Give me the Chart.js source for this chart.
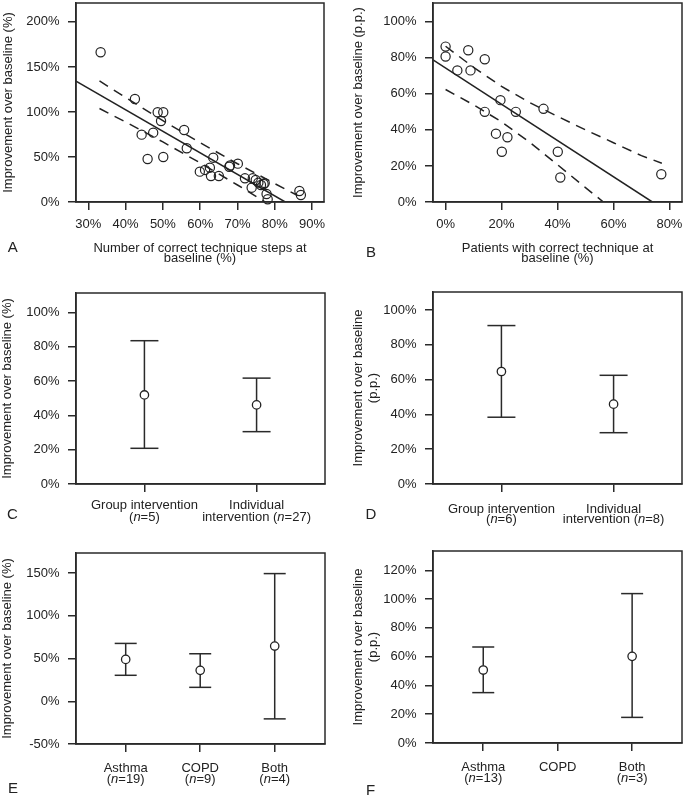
<!DOCTYPE html>
<html><head><meta charset="utf-8">
<script src="https://cdn.jsdelivr.net/npm/chart.js@4/dist/chart.umd.min.js"></script>
<style>
html,body{margin:0;padding:0;background:#fff;}
#wrap{position:relative;width:685px;height:799px;overflow:hidden;background:#fff;}
canvas{position:absolute;}
</style></head><body>
<div id="wrap">
<canvas id="cA" width="342" height="270" style="left:0;top:0"></canvas>
<canvas id="cB" width="343" height="270" style="left:342px;top:0"></canvas>
<canvas id="cC" width="342" height="260" style="left:0;top:270px"></canvas>
<canvas id="cD" width="343" height="260" style="left:342px;top:270px"></canvas>
<canvas id="cE" width="342" height="269" style="left:0;top:530px"></canvas>
<canvas id="cF" width="343" height="269" style="left:342px;top:530px"></canvas>
</div>
<script>
// ---------- Panel A data ----------
const aStepsX = [33.3, 42.5, 44.3, 45.9, 47.4, 48.6, 50.1, 49.5, 50.1, 55.7, 56.4, 59.9, 61.3, 62.6, 62.9, 63.5, 65.0, 67.8, 68.0, 70.1, 72.0, 74.1, 73.8, 74.9, 75.6, 76.3, 77.0, 77.3, 77.8, 78.1, 86.6, 87.0];
const aImprY  = [166.3, 114.4, 74.8, 47.8, 77.0, 99.7, 99.7, 90.0, 50.0, 80.0, 59.7, 33.7, 35.6, 38.1, 28.9, 49.2, 28.9, 39.2, 40.5, 42.6, 26.3, 26.3, 15.9, 24.4, 21.5, 18.9, 20.0, 21.0, 8.9, 3.0, 12.2, 7.8];
const aFitX = [26.7, 82.8];
const aFitY = [134.2, 0];
const aUpperX = [33, 40, 50, 60, 70, 80, 86];
const aUpperY = [134.4, 116.0, 90.3, 65.8, 42.5, 20.4, 7.5];
const aLowerX = [33, 40, 50, 60, 70, 77.4];
const aLowerY = [103.8, 88.8, 66.7, 43.4, 18.9, 0];
const aXTicks = [30, 40, 50, 60, 70, 80, 90];
const aYTicks = [0, 50, 100, 150, 200];

// ---------- Panel B data ----------
const bPatientsX = [0, 0, 4.2, 8.1, 8.9, 14.0, 14.0, 19.6, 25.1, 18.0, 22.1, 20.1, 35.0, 40.1, 41.0, 77.1];
const bImprY     = [86.2, 80.7, 73.0, 84.2, 73.0, 79.2, 50.0, 56.5, 50.0, 37.9, 35.9, 27.9, 51.7, 27.9, 13.6, 15.4];
const bFitX = [-4.5, 73.9];
const bFitY = [78.9, 0];
const bUpperX = [0, 10, 20, 30, 40, 50, 60, 70, 77.3];
const bUpperY = [86.4, 74.7, 64.1, 55.2, 47.5, 40.0, 32.9, 25.7, 21.5];
const bLowerX = [0, 10, 20, 30, 40, 50, 56.4];
const bLowerY = [62.4, 53.9, 44.5, 33.2, 20.7, 8.0, 0];
const bXTicks = [0, 20, 40, 60, 80];
const bYTicks = [0, 20, 40, 60, 80, 100];

// ---------- Panel C data ----------
const cCategories = [["Group intervention", "(n=5)"], ["Individual", "intervention (n=27)"]];
const cMean = [51.9, 46.1];
const cLow  = [20.8, 30.5];
const cHigh = [83.5, 61.7];
const cYTicks = [0, 20, 40, 60, 80, 100];

// ---------- Panel D data ----------
const dCategories = [["Group intervention", "(n=6)"], ["Individual", "intervention (n=8)"]];
const dMean = [64.7, 45.9];
const dLow  = [38.4, 29.5];
const dHigh = [91.1, 62.5];
const dYTicks = [0, 20, 40, 60, 80, 100];

// ---------- Panel E data ----------
const eCategories = [["Asthma", "(n=19)"], ["COPD", "(n=9)"], ["Both", "(n=4)"]];
const eMean = [49.0, 36.2, 64.6];
const eLow  = [30.4, 16.3, -20.6];
const eHigh = [67.7, 55.6, 149.4];
const eYTicks = [-50, 0, 50, 100, 150];

// ---------- Panel F data ----------
const fCategories = [["Asthma", "(n=13)"], ["COPD"], ["Both", "(n=3)"]];
const fMean = [50.7, null, 60.2];
const fLow  = [35.0, null, 17.8];
const fHigh = [66.7, null, 103.8];
const fYTicks = [0, 20, 40, 60, 80, 100, 120];

// ---------- styling / helpers ----------
const FONT = "'Liberation Sans', Arial, Helvetica, sans-serif";
const INK = '#222';
const LINE = '#2a2a2a';
Chart.defaults.font.family = FONT;
Chart.defaults.font.size = 13;
Chart.defaults.color = INK;

function zip(xs, ys) { return xs.map((x, i) => ({x: x, y: ys[i]})); }

const panelInfo = {};

function drawRich(ctx, text, cx, cy) {
  const idx = text.indexOf('(n=');
  let segs;
  if (idx >= 0) {
    segs = [[text.slice(0, idx + 1), false], ['n', true], [text.slice(idx + 2), false]];
  } else {
    segs = [[text, false]];
  }
  const fN = '13px ' + FONT, fI = 'italic 13px ' + FONT;
  let total = 0;
  segs.forEach(s => { ctx.font = s[1] ? fI : fN; s.push(ctx.measureText(s[0]).width); total += s[2]; });
  let x = cx - total / 2;
  ctx.textAlign = 'left';
  ctx.textBaseline = 'middle';
  segs.forEach(s => { ctx.font = s[1] ? fI : fN; ctx.fillText(s[0], x, cy); x += s[2]; });
}

const panelPlugin = {
  id: 'panelDeco',
  afterDraw(chart) {
    const info = panelInfo[chart.canvas.id];
    const ctx = chart.ctx, a = chart.chartArea;
    ctx.save();
    ctx.strokeStyle = LINE;
    ctx.lineWidth = 1.5;
    ctx.strokeRect(a.left, a.top, a.right - a.left, a.bottom - a.top);
    ctx.fillStyle = INK;
    ctx.font = '15px ' + FONT;
    ctx.textAlign = 'center';
    ctx.textBaseline = 'middle';
    ctx.fillText(info.letter, info.lx, info.ly);
    if (info.cats) {
      const xs = chart.scales.x;
      info.cats.forEach((lines, i) => {
        const px = xs.getPixelForValue(i + 1);
        lines.forEach((ln, j) => drawRich(ctx, ln, px, a.bottom + info.catY + j * info.catGap));
      });
    }
    ctx.restore();
  }
};

function axisCommon() {
  return {
    grid: {display: true, drawOnChartArea: false, drawTicks: true, tickLength: 8, color: LINE, lineWidth: 1.5},
    border: {display: true, color: LINE, width: 1.5}
  };
}

function zeroPad(s) { s.paddingTop = 0; s.paddingBottom = 0; s.paddingLeft = 0; s.paddingRight = 0; }

function makeChart(g, datasets) {
  const xTicks = g.xTicks;
  const yTicks = g.yTicks;
  const opts = {
    responsive: false, animation: false, events: [],
    layout: {autoPadding: false, padding: {left: 0, top: g.T, right: g.W - g.R, bottom: 0}},
    plugins: {legend: {display: false}, tooltip: {enabled: false}},
    scales: {
      x: Object.assign(axisCommon(), {
        type: 'linear', min: g.xmin, max: g.xmax,
        afterFit: s => { s.height = g.H - g.B; zeroPad(s); },
        afterBuildTicks: s => { s.ticks = xTicks.map(v => ({value: v})); },
        ticks: {padding: 7, autoSkip: false, maxRotation: 0, color: g.cats ? 'rgba(0,0,0,0)' : INK,
                callback: v => g.cats ? '' : v + '%'},
        title: g.xTitle ? {display: true, text: g.xTitle, color: INK,
                 font: {size: 13, lineHeight: 0.8}, padding: {top: 0, bottom: 6.3}} : {display: false}
      }),
      y: Object.assign(axisCommon(), {
        type: 'linear', min: g.ymin, max: g.ymax,
        afterFit: s => { s.width = g.L; zeroPad(s); },
        afterBuildTicks: s => { s.ticks = yTicks.map(v => ({value: v})); },
        ticks: {padding: 8.5, autoSkip: false, color: INK, callback: v => v + '%'},
        title: {display: true, text: g.yTitle, color: INK,
                font: {size: 13, lineHeight: g.yTitleLH || 1.2}, padding: {top: g.yTitlePad, bottom: 0}}
      })
    }
  };
  panelInfo[g.id] = {letter: g.letter, lx: g.lx, ly: g.ly, cats: g.cats, catY: g.catY, catGap: g.catGap};
  return new Chart(document.getElementById(g.id), {
    type: 'scatter',
    data: {datasets: datasets},
    options: opts,
    plugins: [panelPlugin]
  });
}

function scatterSets(xs, ys, fitX, fitY, upX, upY, loX, loY) {
  return [
    {data: zip(xs, ys), pointRadius: 4.6, pointBorderWidth: 1.2, pointBorderColor: INK,
     pointBackgroundColor: 'rgba(0,0,0,0)', showLine: false, clip: false},
    {data: zip(fitX, fitY), showLine: true, pointRadius: 0, borderColor: INK, borderWidth: 1.5, fill: false},
    {data: zip(upX, upY), showLine: true, pointRadius: 0, borderColor: INK, borderWidth: 1.5, borderDash: [10, 7], fill: false},
    {data: zip(loX, loY), showLine: true, pointRadius: 0, borderColor: INK, borderWidth: 1.5, borderDash: [10, 7], fill: false}
  ];
}

function errorSets(mean, low, high, capR) {
  const meanPts = [], whisk = [], caps = [];
  mean.forEach((m, i) => {
    if (m === null) return;
    const x = i + 1;
    meanPts.push({x: x, y: m});
    whisk.push({x: x, y: low[i]}, {x: x, y: high[i]}, {x: x + 0.5, y: null});
    caps.push({x: x, y: low[i]}, {x: x, y: high[i]});
  });
  return [
    {data: meanPts, pointRadius: 4.2, pointBorderWidth: 1.3, pointBorderColor: INK,
     pointBackgroundColor: '#fff', showLine: false, clip: false},
    {data: whisk, showLine: true, spanGaps: false, pointRadius: 0, borderColor: LINE, borderWidth: 1.5, fill: false},
    {data: caps, showLine: false, pointStyle: 'line', pointRadius: capR, pointBorderWidth: 1.5,
     pointBorderColor: LINE, clip: false}
  ];
}

// ---------- Panels ----------
makeChart({id: 'cA', W: 342, H: 270, L: 76, T: 3, R: 324, B: 202,
  xmin: 26.7, xmax: 93.2, ymin: 0, ymax: 221, xTicks: aXTicks, yTicks: aYTicks,
  xTitle: ['Number of correct technique steps at', 'baseline (%)'],
  yTitle: 'Improvement over baseline (%)', yTitlePad: 0.5,
  letter: 'A', lx: 12.7, ly: 248},
  scatterSets(aStepsX, aImprY, aFitX, aFitY, aUpperX, aUpperY, aLowerX, aLowerY));

makeChart({id: 'cB', W: 343, H: 270, L: 91, T: 3, R: 340, B: 202,
  xmin: -4.5, xmax: 84.5, ymin: 0, ymax: 110.4, xTicks: bXTicks, yTicks: bYTicks,
  xTitle: ['Patients with correct technique at', 'baseline (%)'],
  yTitle: 'Improvement over baseline (p.p.)', yTitlePad: 9,
  letter: 'B', lx: 29, ly: 252.5},
  scatterSets(bPatientsX, bImprY, bFitX, bFitY, bUpperX, bUpperY, bLowerX, bLowerY));

makeChart({id: 'cC', W: 342, H: 260, L: 76, T: 23, R: 325, B: 214,
  xmin: 0.39, xmax: 2.61, ymin: 0, ymax: 111.3, xTicks: [1, 2], yTicks: cYTicks,
  cats: cCategories, catY: 21.3, catGap: 11.7,
  yTitle: 'Improvement over baseline (%)', yTitlePad: 0,
  letter: 'C', lx: 12.5, ly: 245},
  errorSets(cMean, cLow, cHigh, 14));

makeChart({id: 'cD', W: 343, H: 260, L: 91, T: 22, R: 340, B: 214,
  xmin: 0.39, xmax: 2.61, ymin: 0, ymax: 110.4, xTicks: [1, 2], yTicks: dYTicks,
  cats: dCategories, catY: 25, catGap: 10.7,
  yTitle: ['Improvement over baseline', '(p.p.)'], yTitleLH: 1.1, yTitlePad: 9.5,
  letter: 'D', lx: 29, ly: 245},
  errorSets(dMean, dLow, dHigh, 14));

makeChart({id: 'cE', W: 342, H: 269, L: 76, T: 23, R: 325, B: 214,
  xmin: 0.333, xmax: 3.675, ymin: -50, ymax: 173.5, xTicks: [1, 2, 3], yTicks: eYTicks,
  cats: eCategories, catY: 24.3, catGap: 11,
  yTitle: 'Improvement over baseline (%)', yTitlePad: 0,
  letter: 'E', lx: 13, ly: 259},
  errorSets(eMean, eLow, eHigh, 11));

makeChart({id: 'cF', W: 343, H: 269, L: 91, T: 21, R: 340, B: 213,
  xmin: 0.325, xmax: 3.67, ymin: 0, ymax: 133.4, xTicks: [1, 2, 3], yTicks: fYTicks,
  cats: fCategories, catY: 24, catGap: 11,
  yTitle: ['Improvement over baseline', '(p.p.)'], yTitleLH: 1.1, yTitlePad: 9.5,
  letter: 'F', lx: 28.5, ly: 261},
  errorSets(fMean, fLow, fHigh, 11));
</script>
</body></html>
